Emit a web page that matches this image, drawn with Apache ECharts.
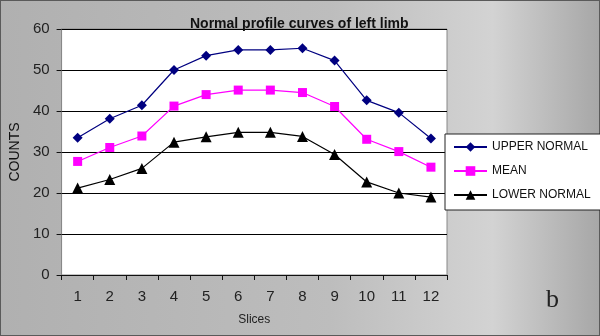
<!DOCTYPE html>
<html>
<head>
<meta charset="utf-8">
<script src="https://cdn.jsdelivr.net/npm/echarts@6/dist/echarts.min.js"></script>
<style>
html, body { margin: 0; padding: 0; }
#chart { width: 600px; height: 336px; }
</style>
</head>
<body>
<div id="chart"></div>
<script>
var slices = ['1', '2', '3', '4', '5', '6', '7', '8', '9', '10', '11', '12'];
var upperNormal = [33.5, 38.1, 41.4, 50.0, 53.5, 54.9, 54.9, 55.3, 52.3, 42.6, 39.6, 33.3];
var meanValues = [27.7, 31.1, 33.9, 41.2, 44.0, 45.1, 45.1, 44.5, 41.1, 33.1, 30.1, 26.3];
var lowerNormal = [21.2, 23.3, 26.0, 32.4, 33.7, 34.8, 34.8, 33.8, 29.4, 22.7, 20.0, 19.0];

var font = 'Liberation Sans, Arial, sans-serif';

var chart = echarts.init(document.getElementById('chart'));

var option = {
	animation: false,
	graphic: [
		{ // gradient backdrop like the Excel chart
			type: 'rect',
			z: -10,
			shape: { x: 0, y: 0, width: 600, height: 336 },
			style: {
				fill: new echarts.graphic.LinearGradient(0, 0, 1, 0, [
					{ offset: 0, color: '#b0b0b0' },
					{ offset: 0.55, color: '#bdbdbd' },
					{ offset: 0.82, color: '#d3d3d3' },
					{ offset: 1, color: '#a6a6a6' }
				]),
				stroke: '#5a5a5a',
				lineWidth: 2
			}
		},
		{
			type: 'text',
			left: 546,
			top: 287,
			style: {
				text: 'b',
				font: '26px "Liberation Serif", serif',
				fill: '#222'
			}
		}
	],
	title: {
		text: 'Normal profile curves of left limb',
		left: 185,
		top: 12,
		textStyle: {
			fontFamily: font,
			fontSize: 14,
			fontWeight: 'bold',
			color: '#111'
		}
	},
	grid: {
		left: 53,
		right: 153,
		top: 29,
		bottom: 61,
		show: true,
		backgroundColor: '#fff',
		borderColor: '#888',
		borderWidth: 1
	},
	legend: {
		orient: 'vertical',
		left: 445,
		top: 134,
		padding: [7, 10, 9, 8],
		itemWidth: 33,
		itemHeight: 12,
		itemGap: 12,
		backgroundColor: '#fff',
		borderColor: '#222',
		borderWidth: 1,
		textStyle: { fontFamily: font, fontSize: 12, color: '#111' },
		data: ['UPPER NORMAL', 'MEAN', 'LOWER NORMAL']
	},
	xAxis: {
		type: 'category',
		data: slices,
		name: 'Slices',
		nameLocation: 'middle',
		nameGap: 39,
		nameTextStyle: { fontFamily: font, fontSize: 12, color: '#222' },
		axisLine: { lineStyle: { color: '#111', width: 1 } },
		axisTick: { show: true, length: 5, lineStyle: { color: '#111' } },
		axisLabel: { fontFamily: font, fontSize: 15, color: '#222', margin: 14 }
	},
	yAxis: {
		type: 'value',
		min: 0,
		max: 60,
		interval: 10,
		name: 'COUNTS',
		nameLocation: 'middle',
		nameGap: 34,
		nameTextStyle: { fontFamily: font, fontSize: 14, color: '#111' },
		axisLine: { show: true, lineStyle: { color: '#888', width: 1 } },
		axisTick: { show: true, length: 5, lineStyle: { color: '#111' } },
		axisLabel: { fontFamily: font, fontSize: 15, color: '#222', margin: 12 },
		splitLine: { show: true, lineStyle: { color: '#000', width: 1 } }
	},
	series: [
		{
			name: 'UPPER NORMAL',
			type: 'line',
			data: upperNormal,
			symbol: 'diamond',
			symbolSize: 10,
			color: '#000080',
			lineStyle: { width: 1.2, color: '#000080' }
		},
		{
			name: 'MEAN',
			type: 'line',
			data: meanValues,
			symbol: 'rect',
			symbolSize: 9,
			color: '#ff00ff',
			lineStyle: { width: 1.2, color: '#ff00ff' }
		},
		{
			name: 'LOWER NORMAL',
			type: 'line',
			data: lowerNormal,
			symbol: 'triangle',
			symbolSize: 11,
			color: '#000',
			lineStyle: { width: 1.2, color: '#000' }
		}
	]
};

chart.setOption(option);
</script>
</body>
</html>
